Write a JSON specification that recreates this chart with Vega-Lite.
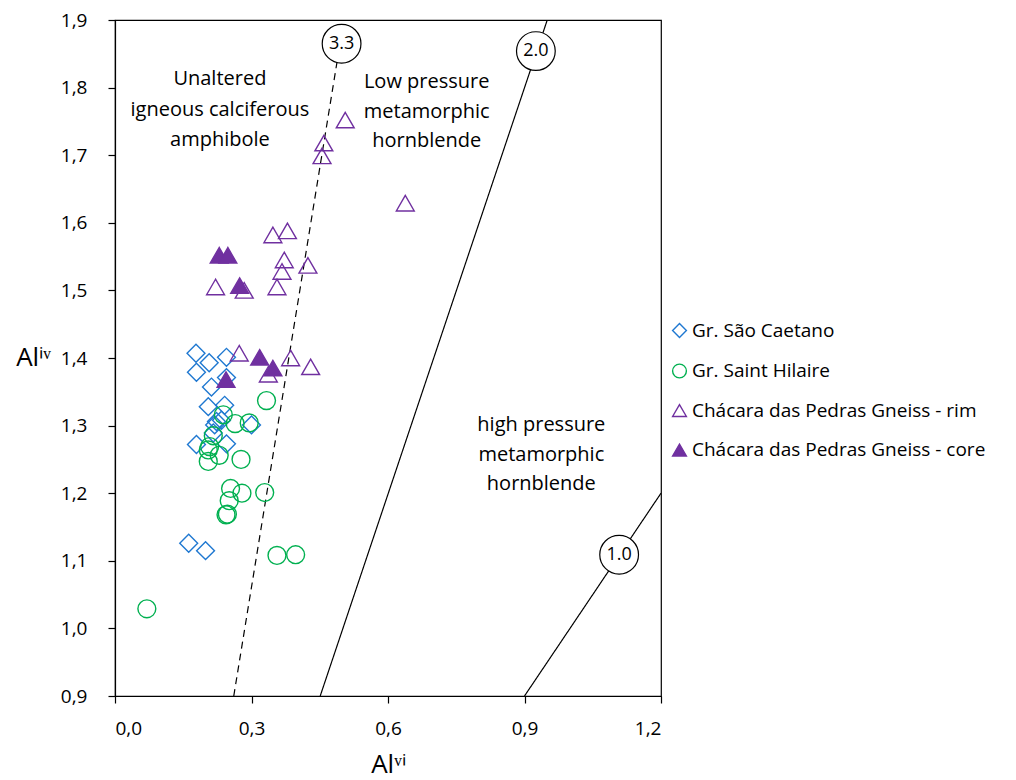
{
  "$schema": "https://vega.github.io/schema/vega-lite/v6.json",
  "autosize": {"type": "none"},
  "padding": {"left": 115, "top": 20, "right": 355, "bottom": 84},
  "width": 546,
  "height": 676,
  "background": "white",
  "config": {
    "font": "Open Sans",
    "view": {"stroke": "#000000", "strokeWidth": 1.2},
    "axis": {"grid": false, "domainColor": "#000000", "tickColor": "#000000", "labelColor": "#000000", "titleColor": "#000000", "labelFont": "Open Sans", "labelFontSize": 19, "titleFont": "Open Sans", "titleFontWeight": "normal", "titleFontSize": 26, "domainWidth": 1.2, "tickWidth": 1.2, "tickSize": 7},
    "legend": {"orient": "none", "legendX": 555, "legendY": 301, "labelFont": "Open Sans", "labelFontSize": 19, "labelColor": "#000000", "rowPadding": 19.5, "symbolSize": 190, "symbolStrokeWidth": 1.4, "labelOffset": 3, "labelLimit": 400, "padding": 0}
  },
  "datasets": {
    "points": [
      {"group": "Gr. São Caetano", "alvi": 0.178, "aliv": 1.407},
      {"group": "Gr. São Caetano", "alvi": 0.207, "aliv": 1.393},
      {"group": "Gr. São Caetano", "alvi": 0.245, "aliv": 1.401},
      {"group": "Gr. São Caetano", "alvi": 0.179, "aliv": 1.379},
      {"group": "Gr. São Caetano", "alvi": 0.245, "aliv": 1.371},
      {"group": "Gr. São Caetano", "alvi": 0.212, "aliv": 1.357},
      {"group": "Gr. São Caetano", "alvi": 0.205, "aliv": 1.328},
      {"group": "Gr. São Caetano", "alvi": 0.241, "aliv": 1.330},
      {"group": "Gr. São Caetano", "alvi": 0.223, "aliv": 1.306},
      {"group": "Gr. São Caetano", "alvi": 0.234, "aliv": 1.308},
      {"group": "Gr. São Caetano", "alvi": 0.219, "aliv": 1.301},
      {"group": "Gr. São Caetano", "alvi": 0.300, "aliv": 1.301},
      {"group": "Gr. São Caetano", "alvi": 0.216, "aliv": 1.289},
      {"group": "Gr. São Caetano", "alvi": 0.179, "aliv": 1.272},
      {"group": "Gr. São Caetano", "alvi": 0.245, "aliv": 1.273},
      {"group": "Gr. São Caetano", "alvi": 0.162, "aliv": 1.126},
      {"group": "Gr. São Caetano", "alvi": 0.199, "aliv": 1.115},
      {"group": "Gr. Saint Hilaire", "alvi": 0.333, "aliv": 1.337},
      {"group": "Gr. Saint Hilaire", "alvi": 0.238, "aliv": 1.316},
      {"group": "Gr. Saint Hilaire", "alvi": 0.264, "aliv": 1.303},
      {"group": "Gr. Saint Hilaire", "alvi": 0.295, "aliv": 1.304},
      {"group": "Gr. Saint Hilaire", "alvi": 0.216, "aliv": 1.285},
      {"group": "Gr. Saint Hilaire", "alvi": 0.208, "aliv": 1.269},
      {"group": "Gr. Saint Hilaire", "alvi": 0.205, "aliv": 1.264},
      {"group": "Gr. Saint Hilaire", "alvi": 0.229, "aliv": 1.256},
      {"group": "Gr. Saint Hilaire", "alvi": 0.205, "aliv": 1.247},
      {"group": "Gr. Saint Hilaire", "alvi": 0.277, "aliv": 1.250},
      {"group": "Gr. Saint Hilaire", "alvi": 0.254, "aliv": 1.207},
      {"group": "Gr. Saint Hilaire", "alvi": 0.279, "aliv": 1.200},
      {"group": "Gr. Saint Hilaire", "alvi": 0.329, "aliv": 1.201},
      {"group": "Gr. Saint Hilaire", "alvi": 0.251, "aliv": 1.189},
      {"group": "Gr. Saint Hilaire", "alvi": 0.244, "aliv": 1.168},
      {"group": "Gr. Saint Hilaire", "alvi": 0.247, "aliv": 1.169},
      {"group": "Gr. Saint Hilaire", "alvi": 0.356, "aliv": 1.108},
      {"group": "Gr. Saint Hilaire", "alvi": 0.397, "aliv": 1.109},
      {"group": "Gr. Saint Hilaire", "alvi": 0.070, "aliv": 1.029},
      {"group": "Chácara das Pedras Gneiss - rim", "alvi": 0.506, "aliv": 1.752},
      {"group": "Chácara das Pedras Gneiss - rim", "alvi": 0.459, "aliv": 1.718},
      {"group": "Chácara das Pedras Gneiss - rim", "alvi": 0.455, "aliv": 1.699},
      {"group": "Chácara das Pedras Gneiss - rim", "alvi": 0.638, "aliv": 1.629},
      {"group": "Chácara das Pedras Gneiss - rim", "alvi": 0.347, "aliv": 1.582},
      {"group": "Chácara das Pedras Gneiss - rim", "alvi": 0.379, "aliv": 1.588},
      {"group": "Chácara das Pedras Gneiss - rim", "alvi": 0.372, "aliv": 1.545},
      {"group": "Chácara das Pedras Gneiss - rim", "alvi": 0.367, "aliv": 1.528},
      {"group": "Chácara das Pedras Gneiss - rim", "alvi": 0.424, "aliv": 1.537},
      {"group": "Chácara das Pedras Gneiss - rim", "alvi": 0.356, "aliv": 1.505},
      {"group": "Chácara das Pedras Gneiss - rim", "alvi": 0.221, "aliv": 1.505},
      {"group": "Chácara das Pedras Gneiss - rim", "alvi": 0.284, "aliv": 1.500},
      {"group": "Chácara das Pedras Gneiss - rim", "alvi": 0.273, "aliv": 1.407},
      {"group": "Chácara das Pedras Gneiss - rim", "alvi": 0.386, "aliv": 1.400},
      {"group": "Chácara das Pedras Gneiss - rim", "alvi": 0.430, "aliv": 1.387},
      {"group": "Chácara das Pedras Gneiss - rim", "alvi": 0.337, "aliv": 1.376},
      {"group": "Chácara das Pedras Gneiss - core", "alvi": 0.229, "aliv": 1.552},
      {"group": "Chácara das Pedras Gneiss - core", "alvi": 0.248, "aliv": 1.552},
      {"group": "Chácara das Pedras Gneiss - core", "alvi": 0.274, "aliv": 1.507},
      {"group": "Chácara das Pedras Gneiss - core", "alvi": 0.318, "aliv": 1.401},
      {"group": "Chácara das Pedras Gneiss - core", "alvi": 0.347, "aliv": 1.385},
      {"group": "Chácara das Pedras Gneiss - core", "alvi": 0.244, "aliv": 1.368}
    ],
    "lines": [
      {"line": "3.3", "alvi": 0.261, "aliv": 0.9},
      {"line": "3.3", "alvi": 0.503, "aliv": 1.9},
      {"line": "2.0", "alvi": 0.451, "aliv": 0.9},
      {"line": "2.0", "alvi": 0.95, "aliv": 1.9},
      {"line": "1.0", "alvi": 0.9, "aliv": 0.9},
      {"line": "1.0", "alvi": 1.2, "aliv": 1.2}
    ],
    "badges": [
      {"label": "3.3", "alvi": 0.498, "aliv": 1.865},
      {"label": "2.0", "alvi": 0.925, "aliv": 1.854},
      {"label": "1.0", "alvi": 1.108, "aliv": 1.109}
    ],
    "notes": [
      {"text": "Unaltered", "alvi": 0.2305, "aliv": 1.8127},
      {"text": "igneous calciferous", "alvi": 0.2305, "aliv": 1.7669},
      {"text": "amphibole", "alvi": 0.2305, "aliv": 1.7225},
      {"text": "Low pressure", "alvi": 0.685, "aliv": 1.808},
      {"text": "metamorphic", "alvi": 0.685, "aliv": 1.764},
      {"text": "hornblende", "alvi": 0.685, "aliv": 1.721},
      {"text": "high pressure", "alvi": 0.937, "aliv": 1.301},
      {"text": "metamorphic", "alvi": 0.937, "aliv": 1.2565},
      {"text": "hornblende", "alvi": 0.937, "aliv": 1.2136}
    ]
  },
  "encoding": {
    "x": {"field": "alvi", "type": "quantitative", "scale": {"domain": [0, 1.2], "nice": false, "zero": false},
      "axis": {"title": "Alᵛⁱ", "values": [0, 0.3, 0.6, 0.9, 1.2], "labelExpr": "replace(format(datum.value, '.1f'), '.', ',')", "labelPadding": 16, "titleY": 68, "titleBaseline": "middle"}},
    "y": {"field": "aliv", "type": "quantitative", "scale": {"domain": [0.9, 1.9], "nice": false, "zero": false},
      "axis": {"title": "Alⁱᵛ", "values": [0.9, 1.0, 1.1, 1.2, 1.3, 1.4, 1.5, 1.6, 1.7, 1.8, 1.9], "labelExpr": "replace(format(datum.value, '.1f'), '.', ',')", "labelPadding": 21, "titleAngle": 0, "titleX": -82, "titleY": 337, "titleAlign": "center", "titleBaseline": "middle"}}
  },
  "layer": [
    {
      "data": {"name": "lines"},
      "mark": {"type": "line", "color": "#000000", "strokeWidth": 1.2, "clip": true},
      "encoding": {
        "detail": {"field": "line", "type": "nominal"},
        "strokeDash": {"field": "line", "type": "nominal", "scale": {"domain": ["3.3", "2.0", "1.0"], "range": [[7, 5], [1, 0], [1, 0]]}, "legend": null}
      }
    },
    {
      "data": {"name": "badges"},
      "mark": {"type": "point", "shape": "circle", "size": 1500, "filled": true, "fill": "white", "stroke": "#000000", "strokeWidth": 1.2, "opacity": 1}
    },
    {
      "data": {"name": "badges"},
      "mark": {"type": "text", "fontSize": 18, "color": "#000000", "align": "center", "baseline": "middle"},
      "encoding": {"text": {"field": "label", "type": "nominal"}}
    },
    {
      "data": {"name": "notes"},
      "mark": {"type": "text", "fontSize": 20, "color": "#000000", "align": "center", "baseline": "middle"},
      "encoding": {"text": {"field": "text", "type": "nominal"}}
    },
    {
      "data": {"name": "points"},
      "mark": {"type": "point", "size": 320, "strokeWidth": 1.4, "opacity": 1},
      "encoding": {
        "shape": {"field": "group", "type": "nominal", "title": null,
          "scale": {"domain": ["Gr. São Caetano", "Gr. Saint Hilaire", "Chácara das Pedras Gneiss - rim", "Chácara das Pedras Gneiss - core"], "range": ["diamond", "circle", "triangle-up", "triangle-up"]}},
        "stroke": {"field": "group", "type": "nominal", "title": null,
          "scale": {"domain": ["Gr. São Caetano", "Gr. Saint Hilaire", "Chácara das Pedras Gneiss - rim", "Chácara das Pedras Gneiss - core"], "range": ["#1F78D1", "#00B050", "#7030A0", "#7030A0"]}},
        "fill": {"field": "group", "type": "nominal", "title": null,
          "scale": {"domain": ["Gr. São Caetano", "Gr. Saint Hilaire", "Chácara das Pedras Gneiss - rim", "Chácara das Pedras Gneiss - core"], "range": ["transparent", "transparent", "transparent", "#7030A0"]}}
      }
    }
  ]
}
